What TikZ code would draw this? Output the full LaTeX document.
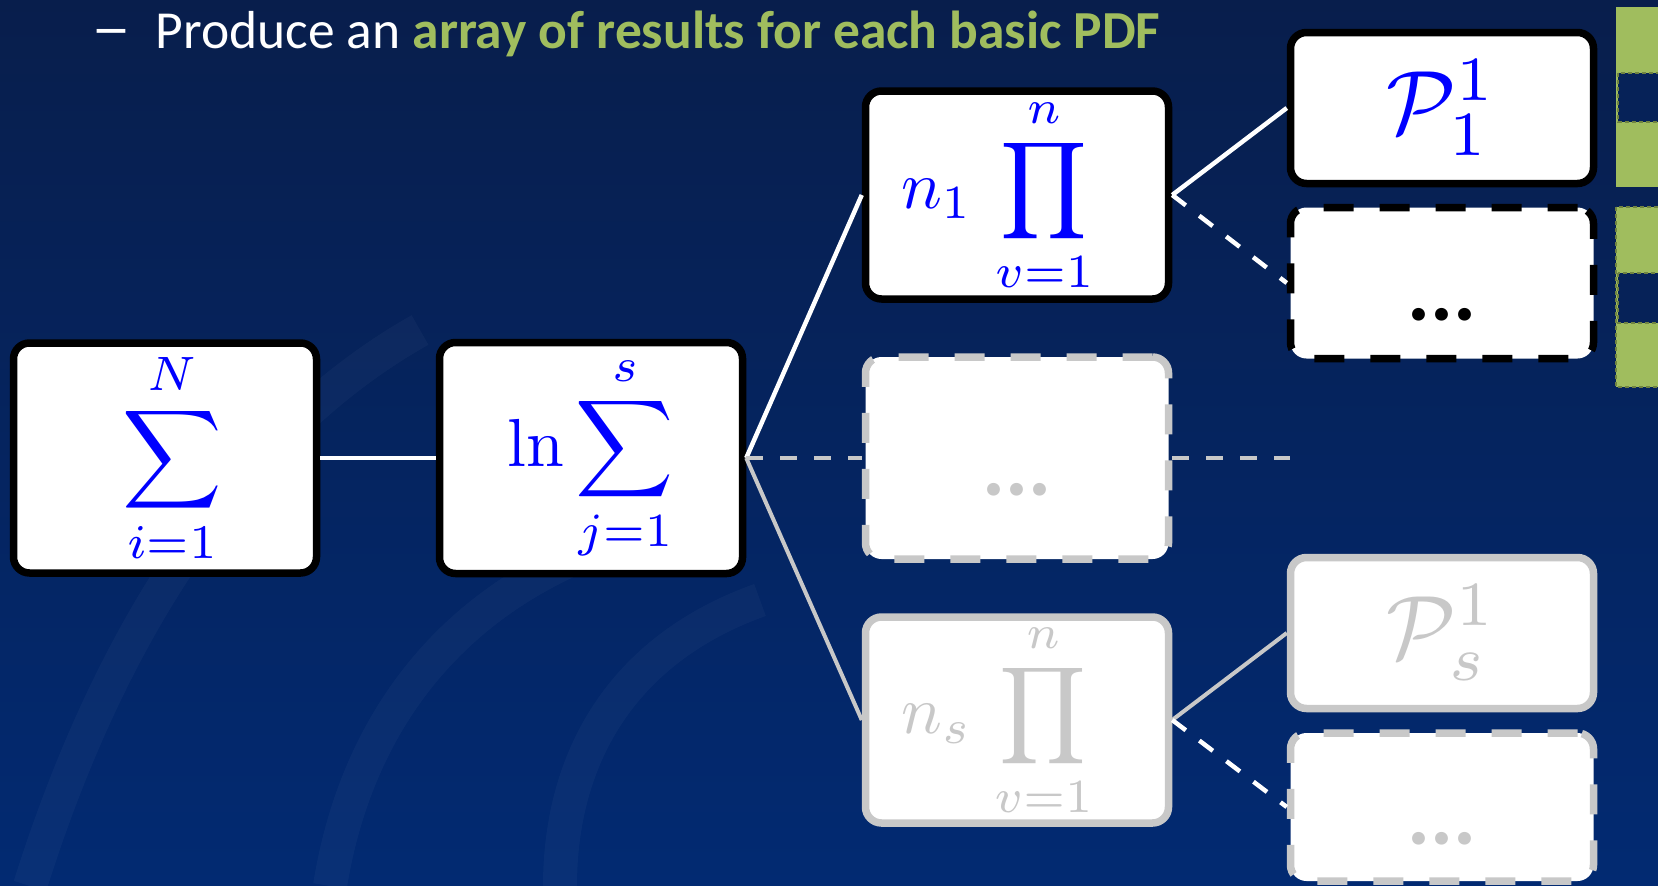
\documentclass[tikz,border=0pt]{standalone}
\usepackage{fontspec}
\usepackage{graphicx}
\newfontfamily\carlito{Carlito}
\definecolor{bgtop}{RGB}{8,30,76}
\definecolor{bgbot}{RGB}{2,42,114}
\definecolor{bgcell}{RGB}{6,34,88}
\definecolor{acc}{RGB}{160,189,94}
\definecolor{mblue}{RGB}{0,0,255}
\definecolor{lgray}{RGB}{200,200,200}
\tikzset{
  box/.style={draw=black, line width=7.5pt, fill=white, rounded corners=16pt,
    minimum width=303pt, inner sep=0pt, text=mblue},
  graybox/.style={box, draw=lgray, text=lgray},
  dashbox/.style={dash pattern=on 30pt off 26pt},
  conn/.style={line width=4.5pt, white},
  gconn/.style={line width=4pt, lgray},
  dconn/.style={dash pattern=on 17pt off 17pt},
  swirl/.style={white, opacity=0.03, line width=34pt},
}
\begin{document}
\begin{tikzpicture}[x=1pt,y=-1pt]
\useasboundingbox (0,0) rectangle (1658,886);
\fill[top color=bgtop, bottom color=bgbot] (0,0) rectangle (1658,886);
% faint background swirls
\draw[swirl] (30,886) .. controls (120,600) and (260,420) .. (420,330);
\draw[swirl] (330,886) .. controls (360,700) and (480,560) .. (700,520);
\draw[swirl] (560,886) .. controls (560,760) and (620,650) .. (760,600);
% green array bars
\fill[acc] (1616,7) rectangle (1658,187);
\fill[bgcell] (1618,73) rectangle (1658,122);
\draw[acc!70!black, line width=1.5pt, dash pattern=on 4pt off 3pt] (1618,73) rectangle (1660,122);
\fill[acc] (1616,207) rectangle (1658,387);
\draw[acc!70!black, line width=1.5pt, dash pattern=on 4pt off 3pt] (1616,207) rectangle (1660,387);
\fill[bgcell] (1618,273) rectangle (1658,323);
\draw[acc!70!black, line width=1.5pt, dash pattern=on 4pt off 3pt] (1618,273) rectangle (1660,323);
% title
\node[anchor=base west, inner sep=0pt, text=white, font=\carlito\fontsize{53.5}{60}\selectfont] (title) at (91,48)
  {\scalebox{1.5}[1.15]{–}\hspace*{24.5pt}Produce an \textcolor{acc}{\bfseries array of results for each basic PDF}};
% boxes
\node[box, minimum height=230pt] (A) at (165,458)
  {\hspace*{14pt}\scalebox{6.9}{$\displaystyle\sum_{i=1}^{N}$}};
\node[box, minimum height=231pt] (B) at (591,458)
  {\scalebox{6.8}{$\displaystyle\ln\sum_{j=1}^{s}$}};
\node[box, minimum height=208pt] (C) at (1017,195)
  {\scalebox{6.8}{$\displaystyle n_1\,\prod_{v=1}^{n}$}\hspace*{40pt}};
\node[graybox, dashbox, minimum height=202pt] (D) at (1017,458)
  {\rule{0pt}{76pt}{\carlito\bfseries\fontsize{86}{90}\selectfont ...}};
\node[graybox, minimum height=206pt] (E) at (1017,720)
  {\scalebox{6.8}{$\displaystyle n_s\,\prod_{v=1}^{n}$}\hspace*{40pt}};
\node[box, minimum height=151pt] (F) at (1442,108)
  {\scalebox{9}{$\mathcal{P}_1^1$}};
\node[box, dashbox, minimum height=151pt, text=black] (G) at (1442,283)
  {\rule{0pt}{76pt}{\carlito\bfseries\fontsize{86}{90}\selectfont ...}};
\node[graybox, minimum height=151pt] (H) at (1442,633)
  {\scalebox{9}{$\mathcal{P}_s^1$}};
\node[graybox, dashbox, minimum height=148pt] (I) at (1442,807)
  {\rule{0pt}{76pt}{\carlito\bfseries\fontsize{86}{90}\selectfont ...}};
\coordinate (dend) at (1290,458);
% connectors
\draw[conn] (A.east) -- (B.west);
\draw[conn] (B.east) -- (C.west);
\draw[gconn, dconn] (B.east) -- (D.west);
\draw[gconn, dconn] (D.east) -- (dend);
\draw[gconn] (B.east) -- (E.west);
\draw[conn] (C.east) -- (F.west);
\draw[conn, dconn] (C.east) -- (G.west);
\draw[gconn] (E.east) -- (H.west);
\draw[conn, dconn] (E.east) -- (I.west);
\end{tikzpicture}
\end{document}
